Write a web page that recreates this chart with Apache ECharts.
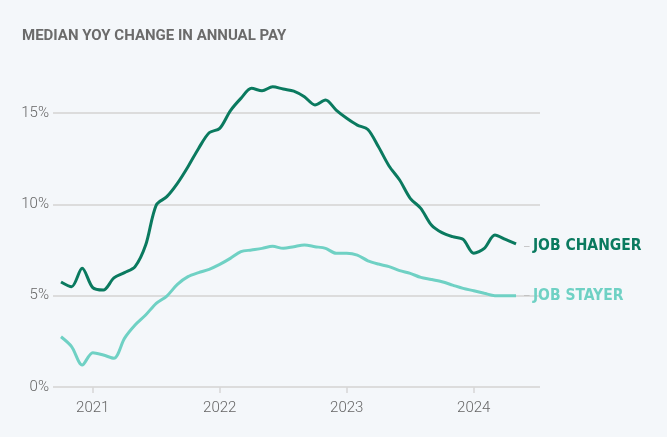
<!DOCTYPE html>
<html><head><meta charset="utf-8">
<script src="https://cdn.jsdelivr.net/npm/echarts@6/dist/echarts.min.js"></script>
<style>html,body{margin:0;padding:0;background:#f4f7fa;}#c{width:667px;height:437px;}</style>
</head><body><div id="c"></div>
<script>
// Monthly, Oct 2020 .. May 2024
var startYear = 2020, startMonth = 9; // zero-based month (Oct)
var jobChanger = [5.75,5.49,6.5,5.44,5.31,5.97,6.26,6.59,7.77,9.96,10.42,11.15,12.06,13.06,13.92,14.16,15.12,15.80,16.35,16.22,16.44,16.31,16.20,15.89,15.44,15.71,15.16,14.71,14.34,14.10,13.15,12.10,11.33,10.33,9.78,8.87,8.45,8.23,8.08,7.32,7.59,8.32,8.08,7.83];
var jobStayer = [2.75,2.21,1.20,1.88,1.75,1.57,2.66,3.39,3.94,4.58,4.98,5.62,6.04,6.26,6.44,6.71,7.04,7.41,7.50,7.59,7.70,7.59,7.68,7.77,7.68,7.59,7.32,7.32,7.22,6.91,6.73,6.59,6.37,6.22,6.00,5.89,5.76,5.58,5.40,5.27,5.13,5.00,5.00,5.00];
var yearTicks = [2021,2022,2023,2024];
var seriesNames = ['JOB CHANGER','JOB STAYER'];

function toPairs(arr){
  return arr.map(function(v,i){ return [startYear + (startMonth + i)/12, v]; });
}
var chart = echarts.init(document.getElementById('c'));
var labelFont = 'Roboto, "Liberation Sans", sans-serif';
var narrowFont = '"DejaVu Sans Condensed", "DejaVu Sans", sans-serif';
chart.setOption({
  backgroundColor:'#f4f7fa',
  animation:false,
  title:{text:'MEDIAN YOY CHANGE IN ANNUAL PAY',left:17,top:24,textStyle:{fontFamily:labelFont,fontWeight:'bold',fontSize:15,color:'#6b6b6b'}},
  grid:{left:53,right:127,top:113,bottom:50},
  xAxis:{type:'value',min:2020.687,max:2024.522,
    axisLine:{show:false},
    splitLine:{show:false},
    axisTick:{show:true,length:6,customValues:yearTicks,lineStyle:{color:'#d6d6d6',width:1.5}},
    axisLabel:{customValues:yearTicks,formatter:function(v){return String(Math.round(v));},color:'#666',fontSize:15,fontWeight:300,fontFamily:labelFont,margin:14}
  },
  yAxis:{type:'value',min:0,max:15,interval:5,
    axisLine:{show:false},axisTick:{show:false},
    splitLine:{lineStyle:{color:'#dcdcdc',width:2}},
    axisLabel:{formatter:'{value}%',color:'#666',fontSize:15,fontWeight:300,fontFamily:labelFont,margin:4}
  },
  series:[
    {name:seriesNames[0],type:'line',data:toPairs(jobChanger),smooth:0.3,showSymbol:false,clip:false,
     lineStyle:{color:'#0a7a5f',width:3},itemStyle:{color:'#0a7a5f'},
     endLabel:{show:true,distance:8,offset:[0,2],formatter:'{d|–} {n|'+seriesNames[0]+'}',
       rich:{d:{color:'#bbbbbb',fontSize:10},n:{color:'#0a7a5f',fontWeight:'bold',fontSize:15.5,fontFamily:narrowFont}}}},
    {name:seriesNames[1],type:'line',data:toPairs(jobStayer),smooth:0.3,showSymbol:false,clip:false,
     lineStyle:{color:'#6fd1c4',width:3},itemStyle:{color:'#6fd1c4'},
     endLabel:{show:true,distance:8,offset:[0,0],formatter:'{d|–} {n|'+seriesNames[1]+'}',
       rich:{d:{color:'#bbbbbb',fontSize:10},n:{color:'#6fd1c4',fontWeight:'bold',fontSize:15.5,fontFamily:narrowFont}}}}
  ]
});
</script></body></html>
